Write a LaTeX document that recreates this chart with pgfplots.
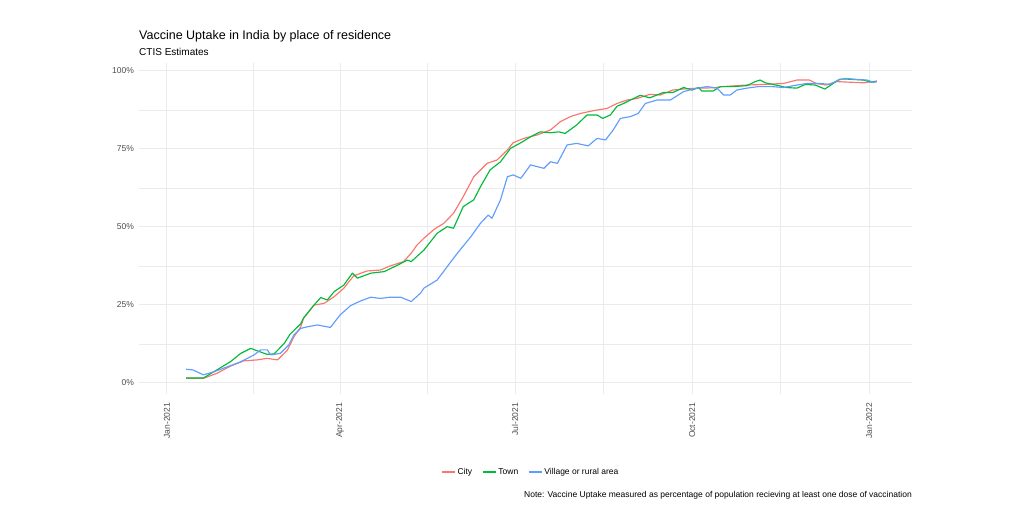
\documentclass[border=0pt]{standalone}
\usepackage{pgfplots}
\pgfplotsset{compat=1.18}
\usepackage{fontspec}
\setmainfont{Liberation Sans}
\definecolor{cityc}{HTML}{F8766D}
\definecolor{townc}{HTML}{00BA38}
\definecolor{vilc}{HTML}{619CFF}
\definecolor{gridc}{HTML}{EBEBEB}
\definecolor{tickc}{HTML}{4D4D4D}
\begin{document}
\begin{tikzpicture}
\path[use as bounding box] (0,0) rectangle (1024bp,513bp);
\begin{axis}[
 at={(139bp,119.5bp)}, anchor=south west,
 scale only axis, width=773bp, height=330bp,
 xmin=-14.5, xmax=387.3, ymin=-3.37, ymax=102.4,
 axis line style={draw=none},
 major tick length=0pt, minor tick length=0pt,
 xtick={0,90,181,273,365},
 xticklabels={Jan-2021,Apr-2021,Jul-2021,Oct-2021,Jan-2022},
 minor xtick={45,135.5,227,319},
 ytick={0,25,50,75,100},
 yticklabels={0\%,25\%,50\%,75\%,100\%},
 minor ytick={12.5,37.5,62.5,87.5},
 grid=both,
 major grid style={gridc, line width=1bp},
 minor grid style={gridc, line width=0.6bp},
 tick label style={font=\fontsize{8.5bp}{10bp}\selectfont, text=tickc},
 xticklabel style={yshift=-6bp, rotate=90, anchor=east},
 yticklabel style={xshift=-1.5bp},
 legend columns=3,
 legend style={at={(0.507,-0.238)}, anchor=center, draw=none, fill=none,
   font=\fontsize{8.5bp}{10bp}\selectfont,
   /tikz/every even column/.append style={column sep=8bp}},
 legend image code/.code={\draw[#1] (0bp,0bp) -- (13bp,0bp);},
 every axis plot/.append style={line width=1.15bp, line join=round, no marks},
]
\addplot[cityc] table {
10 1.5
19 1.5
26 3.1
33 5.4
40 7.1
47 7.4
52 7.9
57.5 7.4
61 9.5
62.7 10.6
66 14.8
69.6 18
71 20.7
76.5 25
81.7 25.5
87 27.7
92 30.4
97 34.3
104 35.9
111 36.2
116 37.5
123 38.9
127 41.6
130 44.2
133.6 46.4
139 49.3
144 51.2
149 54.4
154 59.7
159.5 66.1
166.5 70.4
171.7 71.5
177 74.7
180 77
185.5 78.4
192.5 79.5
199.4 81.1
204.6 83.8
209.8 85.4
215 86.4
221.9 87.3
228.8 88
234 89.6
239.2 90.7
244.4 91.2
251 92.5
256.5 92.3
263 93.9
270 94.3
276 94.5
284 94.6
289 95
301.5 95.5
311 95.7
320.5 96
327.5 97.1
334 97.1
337.5 96
342.7 95.5
348 96.6
355 96.4
362 96.2
367 96.6
369 96.8
};
\addlegendentry{City}
\addplot[townc] table {
10 1.6
19 1.6
26 4.2
33 6.8
38.4 9.5
43.6 11.1
47 10.3
52 9.2
55.7 9.3
61 12.7
64 15.6
69.6 19
71 20.8
76.5 25
80 27.4
83.4 26.6
87 29.3
92 31.4
96.4 35.2
99 33.6
106 35.2
113 35.7
120 37.8
125 39.4
127 38.9
133.6 42.6
140.5 48
145.7 50.1
149 49.6
154 56.5
159.5 58.7
163 62.9
168 68.3
173.4 70.9
178.6 75.2
184 77
189 78.9
194 80.5
199.4 80.2
203.7 80.5
207 80
213 82.7
218.4 85.9
223.6 85.9
226.5 84.8
230.5 85.9
234 88.7
237.4 89.6
241 90.7
246 92.2
251 91.4
258 93.1
263 93.1
268.6 94.7
273 93.9
276.4 94.7
278 93.6
284 93.6
287.6 95
294.5 95
301.5 95.3
305.8 96.6
308.4 97.1
311 96.2
318 95.3
322 94.7
327.5 94.5
331.8 95.7
337 95.5
342 94.2
344.6 95.3
349.8 97.4
353.3 97.4
362 97.1
366.4 96.4
369 96.6
};
\addlegendentry{Town}
\addplot[vilc] table {
10 4.4
13.5 4.2
19 2.6
24.4 3.6
31.5 5.2
38.4 6.8
45.3 9
48.8 10.6
52.2 10.6
54 9
59 9.5
63.4 12.2
66 15.4
69.6 17.5
73 18
78.2 18.6
85 17.8
90 21.8
95.5 24.8
100.7 26.3
106 27.5
111 27.1
116 27.5
121.5 27.5
127 26.1
132 28.9
133.6 30.4
140.5 33
145.7 37.3
151 41.6
158 46.9
163 51.2
167 53.8
169 52.8
173.4 58.7
177 66.1
180 66.7
184 65.6
189 69.9
196 68.8
199.4 70.9
203 70.4
208 76.3
213 76.8
219 76
223.6 78.4
228 77.9
232 81.1
235.7 84.8
241 85.4
245 86.4
248.7 89.6
254.8 90.7
261.7 90.7
268.6 93.4
275.6 94.5
280.8 95
286 94.5
289.4 92.3
292.8 92.3
296.3 93.9
301.5 94.5
307.5 95
314.4 95
320.5 94.7
325.7 95.3
332.6 96
339.5 96
344.6 95.7
349 97.1
352.5 97.6
358.6 97.3
363.9 97.1
367.3 96.4
369 96.6
};
\addlegendentry{Village or rural area}
\end{axis}
\node[anchor=base west, inner sep=0pt, font=\fontsize{12.5bp}{15bp}\selectfont] at (139bp,473.5bp) {Vaccine Uptake in India by place of residence};
\node[anchor=base west, inner sep=0pt, font=\fontsize{10bp}{12bp}\selectfont] at (139bp,457.7bp) {CTIS Estimates};
\node[anchor=base east, inner sep=0pt, font=\fontsize{8.5bp}{10bp}\selectfont] at (912bp,15.5bp) {Note: Vaccine Uptake measured as percentage of population recieving at least one dose of vaccination};
\end{tikzpicture}
\end{document}
